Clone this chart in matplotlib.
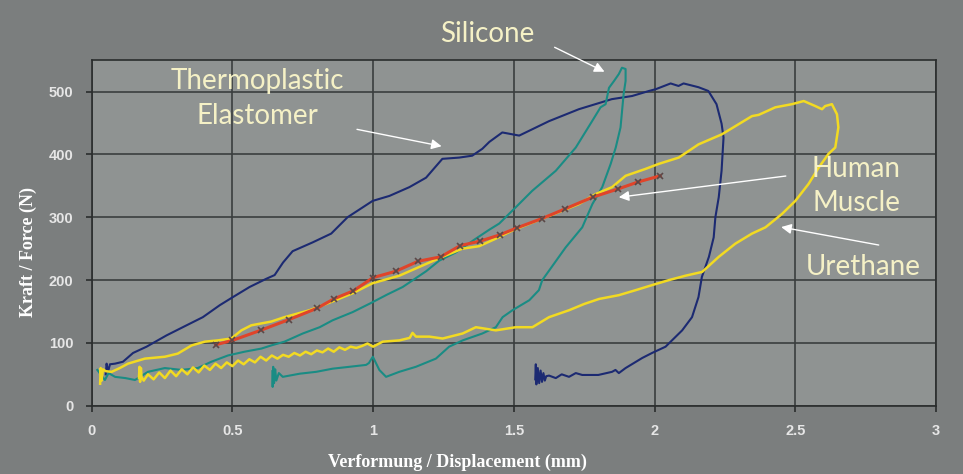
import numpy as np
import matplotlib.pyplot as plt

# Thermoplastic Elastomer (navy loop)
tpe_x = [0.05, 0.053, 0.058, 0.065, 0.083, 0.111, 0.147, 0.195, 0.266, 0.337, 0.395, 0.455, 0.502,
         0.561, 0.62, 0.65, 0.68, 0.714, 0.785, 0.851, 0.909, 0.998, 1.058, 1.129, 1.188, 1.246, 1.306,
         1.352, 1.388, 1.413, 1.459, 1.519, 1.625, 1.731, 1.848, 1.92, 1.98, 2.005, 2.057, 2.085, 2.103,
         2.156, 2.191, 2.22, 2.238, 2.245, 2.238, 2.228, 2.216, 2.21, 2.193, 2.168, 2.156, 2.133, 2.098,
         2.039, 1.991, 1.956, 1.897, 1.873, 1.861, 1.849, 1.80, 1.743, 1.72, 1.696, 1.67, 1.649, 1.625,
         1.615, 1.61, 1.605, 1.60, 1.595, 1.59, 1.585, 1.58, 1.578, 1.576]
tpe_y = [50, 67, 54, 66, 67, 70, 84, 94, 112, 128, 141, 160, 173,
         189, 202, 208, 228, 246, 260, 274, 300, 326, 334, 348, 363, 393, 395,
         398, 409, 420, 435, 430, 453, 472, 488, 493, 501, 504, 513, 509, 513,
         507, 501, 480, 449, 427, 374, 332, 300, 268, 237, 205, 173, 141, 120,
         94, 84, 76, 60, 52, 57, 54, 49, 49, 52, 46, 50, 44, 48,
         47, 40, 52, 38, 56, 36, 60, 34, 66, 42]

# Silicone (teal loop)
sil_x = [0.02, 0.035, 0.047, 0.06, 0.083, 0.12, 0.154, 0.2, 0.26, 0.319, 0.377, 0.425, 0.484, 0.543,
         0.603, 0.638, 0.685, 0.75, 0.81, 0.856, 0.927, 0.99, 1.05, 1.105, 1.188, 1.235, 1.294, 1.365,
         1.412, 1.448, 1.507, 1.565, 1.649, 1.72, 1.778, 1.808, 1.826, 1.838, 1.856, 1.873, 1.884, 1.897,
         1.897, 1.89, 1.879, 1.862, 1.844, 1.814, 1.779, 1.743, 1.684, 1.625, 1.601, 1.589, 1.555, 1.495,
         1.46, 1.436, 1.388, 1.318, 1.27, 1.223, 1.152, 1.093, 1.046, 1.022, 0.999, 0.985, 0.975, 0.916,
         0.856, 0.798, 0.739, 0.679, 0.665, 0.656, 0.652, 0.648, 0.645, 0.643, 0.642]
sil_y = [57, 48, 41, 52, 46, 44, 41, 54, 60, 57, 60, 70, 80, 86,
         91, 96, 102, 115, 125, 136, 149, 163, 177, 189, 214, 231, 244, 266,
         280, 290, 316, 342, 374, 411, 453, 475, 480, 506, 517, 528, 538, 536,
         517, 496, 443, 411, 385, 348, 321, 284, 252, 215, 200, 184, 168, 152,
         141, 125, 115, 104, 94, 75, 62, 54, 46, 57, 78, 68, 65, 62,
         59, 54, 51, 46, 52, 40, 58, 36, 62, 30, 55]

# Urethane (yellow loop)
ure_x = [0.03, 0.032, 0.035, 0.04, 0.05, 0.071, 0.1, 0.129, 0.189, 0.26, 0.306, 0.355, 0.402, 0.448,
         0.496, 0.532, 0.567, 0.638, 0.685, 0.774, 0.85, 0.927, 0.998, 1.093, 1.164, 1.246, 1.317, 1.377,
         1.436, 1.495, 1.613, 1.731, 1.791, 1.849, 1.897, 1.968, 2.015, 2.086, 2.156, 2.239, 2.298, 2.346,
         2.37, 2.429, 2.488, 2.53, 2.571, 2.595, 2.606, 2.63, 2.648, 2.653, 2.642, 2.618, 2.583, 2.547,
         2.5, 2.452, 2.394, 2.346, 2.287, 2.228, 2.169, 2.11, 2.051, 1.991, 1.933, 1.873, 1.803, 1.75,
         1.696, 1.625, 1.566, 1.507, 1.436, 1.365, 1.318, 1.247, 1.2, 1.152, 1.14, 1.13, 1.093, 1.034,
         1.0, 0.98, 0.96, 0.94, 0.92, 0.90, 0.88, 0.86, 0.84, 0.82, 0.80, 0.78, 0.76, 0.74, 0.72, 0.70,
         0.68, 0.66, 0.64, 0.62, 0.60, 0.58, 0.56, 0.54, 0.52, 0.50, 0.48, 0.46, 0.44, 0.42, 0.40, 0.38,
         0.36, 0.34, 0.32, 0.30, 0.28, 0.26, 0.24, 0.22, 0.20, 0.185, 0.177, 0.175, 0.172, 0.17, 0.168]
ure_y = [35, 60, 40, 58, 55, 54, 60, 67, 75, 78, 83, 96, 102, 104,
         107, 120, 128, 134, 141, 152, 165, 179, 195, 207, 221, 237, 250, 254,
         266, 279, 300, 321, 337, 348, 366, 377, 385, 395, 416, 432, 448, 461,
         463, 475, 480, 485, 477, 472, 477, 480, 464, 443, 411, 401, 379, 353,
         326, 305, 284, 274, 258, 237, 213, 207, 200, 192, 184, 176, 170, 162,
         152, 141, 125, 125, 120, 125, 115, 107, 110, 110, 116, 108, 104, 102,
         94, 99, 95, 92, 94, 89, 93, 86, 91, 85, 88, 82, 86, 80, 84, 78,
         81, 75, 80, 72, 78, 69, 74, 66, 72, 63, 69, 60, 67, 57, 64, 53,
         61, 50, 58, 47, 56, 44, 53, 42, 50, 40, 46, 60, 38, 62, 45]

# Human Muscle (red with x markers)
mus_x = [0.44, 0.5, 0.6, 0.7, 0.8, 0.86, 0.93, 1.0, 1.08, 1.16, 1.24, 1.31, 1.38, 1.45, 1.51, 1.6,
         1.68, 1.78, 1.87, 1.94, 2.02]
mus_y = [97, 104, 120, 137, 155, 170, 183, 204, 214, 230, 237, 255, 262, 272, 283, 298,
         313, 332, 345, 356, 366]

x_ticks = [0, 0.5, 1, 1.5, 2, 2.5, 3]
x_ticklabels = ['0', '0.5', '1', '1.5', '2', '2.5', '3']
y_ticks = [0, 100, 200, 300, 400, 500]

fig = plt.figure(figsize=(9.63, 4.74), dpi=100)
fig.patch.set_facecolor('#7b7e7e')
ax = fig.add_axes([0.0952, 0.144, 0.8768, 0.729])
ax.set_facecolor('#8f9392')

ax.plot(tpe_x, tpe_y, color='#1c2a72', linewidth=1.5, zorder=3)
ax.plot(sil_x, sil_y, color='#1a8c84', linewidth=1.5, zorder=3)
ax.plot(ure_x, ure_y, color='#f2da22', linewidth=1.8, zorder=3)
ax.plot(mus_x, mus_y, color='#e0442a', linewidth=2.2, zorder=4,
        marker='x', markersize=5, markeredgecolor='#5a4848', markeredgewidth=1.2)

ax.set_xlim(0, 3)
ax.set_ylim(0, 550)
ax.set_xticks(x_ticks)
ax.set_xticklabels(x_ticklabels)
ax.set_yticks(y_ticks)
ax.grid(True, color='#3a3e3e', linewidth=1.2)
ax.set_axisbelow(True)
for s in ax.spines.values():
    s.set_color('#2a2d2d')
    s.set_linewidth(1.2)
ax.tick_params(colors='#2a2d2d', length=4, width=1.2, pad=9)
for lab in ax.get_xticklabels() + ax.get_yticklabels():
    lab.set_color('#e6e6e6')
    lab.set_fontweight('bold')
    lab.set_fontsize(10.5)
    lab.set_family('Liberation Sans')

fig.text(457 / 963, 1 - 462 / 474, 'Verformung / Displacement (mm)', ha='center', va='center',
         color='white', fontsize=13, fontweight='bold', family='Liberation Serif')
fig.text(28 / 963, 1 - 252 / 474, 'Kraft / Force (N)', ha='center', va='center', rotation=90,
         color='white', fontsize=13, fontweight='bold', family='Liberation Serif')

cream = '#f5f1c6'
tfont = dict(color=cream, fontsize=20, family='Lato', ha='center', va='center', clip_on=False)
arrow = dict(arrowstyle='-|>', color='white', linewidth=1.0, mutation_scale=15)

ax.annotate('', xy=(1.831, 529.7), xytext=(1.636, 572.5), arrowprops=arrow, annotation_clip=False)
ax.annotate('', xy=(1.253, 412.2), xytext=(0.933, 440.8), arrowprops=arrow)
ax.annotate('', xy=(1.863, 331.3), xytext=(2.476, 366.2), arrowprops=arrow)
ax.annotate('', xy=(2.44, 285.2), xytext=(2.806, 255.0), arrowprops=arrow)

ax.text(1.405, 591.6, 'Silicone', **tfont)
ax.text(0.59, 517, 'Thermoplastic', **tfont)
ax.text(0.59, 461.4, 'Elastomer', **tfont)
ax.text(2.717, 377, 'Human', **tfont)
ax.text(2.717, 323, 'Muscle', **tfont)
ax.text(2.742, 220.2, 'Urethane', **tfont)

fig.savefig('out.png', dpi=100, facecolor=fig.get_facecolor())
